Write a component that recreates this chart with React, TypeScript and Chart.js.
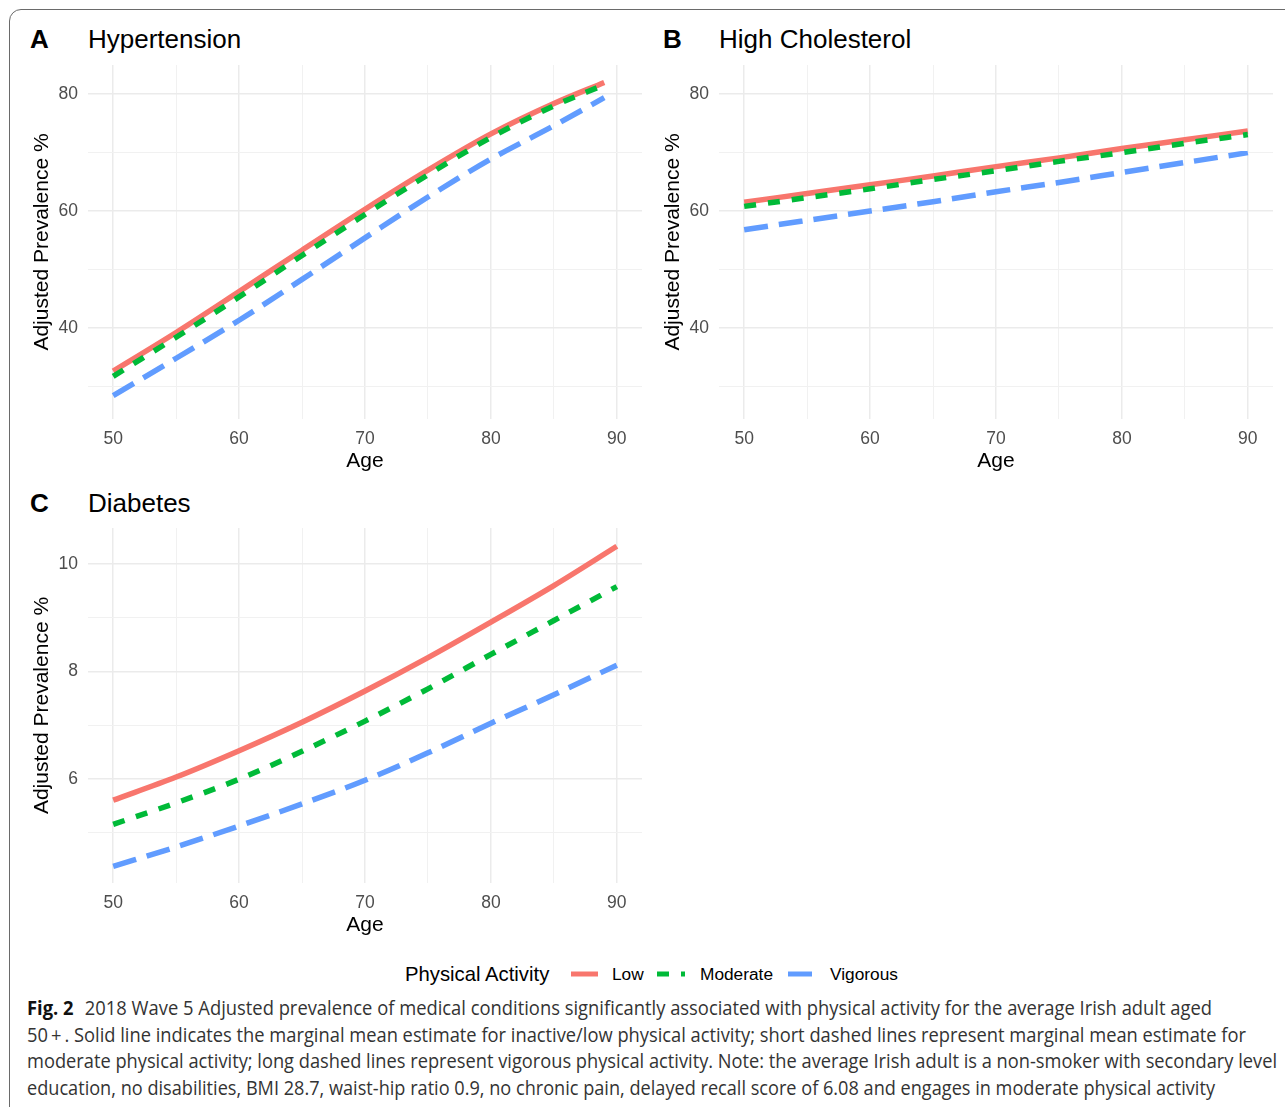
import React, { useEffect, useLayoutEffect, useRef } from 'react';
import { Chart, registerables } from 'chart.js';

Chart.register(...registerables);

const FONT = "'Liberation Sans', Arial, Helvetica, sans-serif";
Chart.defaults.font.family = FONT;

// ---------------- data ----------------
const seriesNames = ['Low', 'Moderate', 'Vigorous'];
const seriesColors = ['#F8766D', '#00BA38', '#619CFF'];
const seriesDash: number[][] = [[], [12, 12], [24, 11]];

const agesHyp = [50, 55, 60, 65, 70, 75, 80, 85, 89];
const hypLow = [32.6, 39.2, 46.2, 53.3, 60.3, 67.0, 73.2, 78.4, 82.0];
const hypModerate = [31.7, 38.4, 45.3, 52.4, 59.4, 66.2, 72.6, 78.0, 81.6];
const hypVigorous = [28.4, 34.8, 41.3, 48.3, 55.4, 62.4, 68.9, 74.6, 79.4];

const ages = [50, 55, 60, 65, 70, 75, 80, 85, 90];
const cholLow = [61.5, 63.0, 64.5, 66.0, 67.6, 69.1, 70.7, 72.2, 73.7];
const cholModerate = [60.8, 62.3, 63.8, 65.4, 66.9, 68.5, 70.0, 71.6, 73.1];
const cholVigorous = [56.8, 58.4, 60.0, 61.6, 63.3, 64.9, 66.6, 68.3, 70.0];

const diabLow = [5.61, 6.04, 6.53, 7.06, 7.64, 8.26, 8.92, 9.6, 10.33];
const diabModerate = [5.16, 5.56, 6.0, 6.52, 7.08, 7.68, 8.32, 8.95, 9.58];
const diabVigorous = [4.38, 4.74, 5.13, 5.54, 5.98, 6.49, 7.04, 7.57, 8.12];

const xGrid = [50, 55, 60, 65, 70, 75, 80, 85, 90];
const xLabels = [50, 60, 70, 80, 90];
const yGridAB = [30, 40, 50, 60, 70, 80];
const yLabelsAB = [40, 60, 80];
const yGridC = [5, 6, 7, 8, 9, 10];
const yLabelsC = [6, 8, 10];

const captionLines = [
  '2018 Wave 5 Adjusted prevalence of medical conditions significantly associated with physical activity for the average Irish adult aged',
  '50\u2009+\u2009. Solid line indicates the marginal mean estimate for inactive/low physical activity; short dashed lines represent marginal mean estimate for',
  'moderate physical activity; long dashed lines represent vigorous physical activity. Note: the average Irish adult is a non-smoker with secondary level',
  'education, no disabilities, BMI 28.7, waist-hip ratio 0.9, no chronic pain, delayed recall score of 6.08 and engages in moderate physical activity',
];
const captionRight = [1212, 1246, 1277, 1215];

// ---------------- panel ----------------
type PanelProps = {
  left: number;
  top: number;
  width: number;
  height: number;
  xs: number[];
  values: number[][];
  yMin: number;
  yMax: number;
  yGrid: number[];
  yLabels: number[];
};

function Panel(p: PanelProps) {
  const ref = useRef<HTMLCanvasElement>(null);
  useEffect(() => {
    const isMajorX = (v: number) => xLabels.includes(v);
    const isMajorY = (v: number) => p.yLabels.includes(v);
    const chart = new Chart(ref.current as HTMLCanvasElement, {
      type: 'line',
      data: {
        datasets: seriesNames.map((name, i) => ({
          label: name,
          data: p.xs.map((x, j) => ({ x, y: p.values[i][j] })),
          borderColor: seriesColors[i],
          backgroundColor: seriesColors[i],
          borderWidth: 5.5,
          borderDash: seriesDash[i],
          borderCapStyle: 'butt' as const,
          pointRadius: 0,
          fill: false,
          cubicInterpolationMode: 'monotone' as const,
          order: 3 - i,
        })),
      },
      options: {
        responsive: false,
        animation: false,
        devicePixelRatio: 1,
        layout: { padding: { top: 5, right: 5, left: 0, bottom: 0 } },
        plugins: { legend: { display: false }, tooltip: { enabled: false } },
        scales: {
          x: {
            type: 'linear',
            min: 48,
            max: 92,
            afterBuildTicks: (s: any) => {
              s.ticks = xGrid.map((v) => ({ value: v }));
            },
            afterFit: (s: any) => {
              s.height = 60;
              s.paddingLeft = 0;
              s.paddingRight = 0;
              s.paddingTop = 0;
              s.paddingBottom = 0;
            },
            border: { display: false },
            grid: {
              drawTicks: false,
              color: (c: any) => (isMajorX(c.tick?.value) ? '#EBEBEB' : '#F1F1F1'),
              lineWidth: (c: any) => (isMajorX(c.tick?.value) ? 1.5 : 1),
            },
            ticks: {
              autoSkip: false,
              maxRotation: 0,
              padding: 10,
              color: '#4D4D4D',
              font: { size: 17.5, family: FONT },
              callback: (v: any) => (isMajorX(Number(v)) ? String(v) : ''),
            },
            title: {
              display: true,
              text: 'Age',
              color: '#000000',
              font: { size: 21, family: FONT },
              padding: { top: 0, bottom: 5 },
            },
          },
          y: {
            type: 'linear',
            min: p.yMin,
            max: p.yMax,
            afterBuildTicks: (s: any) => {
              s.ticks = p.yGrid.map((v) => ({ value: v }));
            },
            afterFit: (s: any) => {
              s.width = 68;
              s.paddingLeft = 0;
              s.paddingRight = 0;
              s.paddingTop = 0;
              s.paddingBottom = 0;
            },
            border: { display: false },
            grid: {
              drawTicks: false,
              color: (c: any) => (isMajorY(c.tick?.value) ? '#EBEBEB' : '#F1F1F1'),
              lineWidth: (c: any) => (isMajorY(c.tick?.value) ? 1.5 : 1),
            },
            ticks: {
              padding: 10,
              color: '#4D4D4D',
              font: { size: 17.5, family: FONT },
              callback: (v: any) => (isMajorY(Number(v)) ? String(v) : ''),
            },
            title: {
              display: true,
              text: 'Adjusted Prevalence %',
              color: '#000000',
              font: { size: 21, family: FONT },
              padding: { top: 10, bottom: 4 },
            },
          },
        },
      } as any,
    });
    return () => chart.destroy();
  }, []);
  return (
    <canvas
      ref={ref}
      width={p.width}
      height={p.height}
      style={{ position: 'absolute', left: p.left, top: p.top, width: p.width, height: p.height }}
    />
  );
}

function PanelTitle({ x, y, letter, title, titleX }: { x: number; y: number; letter: string; title: string; titleX: number }) {
  const base: React.CSSProperties = {
    position: 'absolute',
    top: y,
    fontFamily: FONT,
    fontSize: 26,
    lineHeight: '26px',
    color: '#000',
    whiteSpace: 'nowrap',
  };
  return (
    <>
      <div style={{ ...base, left: x, fontWeight: 'bold' }}>{letter}</div>
      <div style={{ ...base, left: titleX }}>{title}</div>
    </>
  );
}

function LegendKey({ x, i, w }: { x: number; i: number; w: number }) {
  return (
    <svg
      width={w}
      height={10}
      style={{ position: 'absolute', left: x, top: 969, overflow: 'visible' }}
    >
      <line
        x1={0}
        y1={5}
        x2={w}
        y2={5}
        stroke={seriesColors[i]}
        strokeWidth={5}
        strokeDasharray={seriesDash[i].length ? seriesDash[i].join(' ') : undefined}
      />
    </svg>
  );
}

export default function App() {
  const capRefs = useRef<(HTMLDivElement | null)[]>([]);
  useLayoutEffect(() => {
    capRefs.current.forEach((el, i) => {
      if (!el) return;
      el.style.transform = 'none';
      const w = el.getBoundingClientRect().width;
      const target = captionRight[i] - 27;
      if (w > 0) el.style.transform = `scaleX(${target / w})`;
    });
  }, []);

  const legendText: React.CSSProperties = {
    position: 'absolute',
    fontFamily: FONT,
    color: '#000',
    whiteSpace: 'nowrap',
  };
  const capBaselines = [1015, 1042, 1068, 1095];
  const capSize = 19.5;

  return (
    <div
      style={{
        position: 'fixed',
        left: 0,
        top: 0,
        width: 1285,
        height: 1107,
        overflow: 'hidden',
        background: '#fff',
      }}
    >
      <div
        style={{
          position: 'absolute',
          left: 9,
          top: 9,
          width: 1320,
          height: 1200,
          border: '1.5px solid #6a6a6a',
          borderRadius: 12,
          boxSizing: 'border-box',
        }}
      />

      <PanelTitle x={30} y={26} letter="A" title="Hypertension" titleX={88} />
      <PanelTitle x={663} y={26} letter="B" title="High Cholesterol" titleX={719} />
      <PanelTitle x={30} y={490} letter="C" title="Diabetes" titleX={88} />

      <Panel
        left={20}
        top={60}
        width={627}
        height={419}
        xs={agesHyp}
        values={[hypLow, hypModerate, hypVigorous]}
        yMin={24.4}
        yMax={85.0}
        yGrid={yGridAB}
        yLabels={yLabelsAB}
      />
      <Panel
        left={651}
        top={60}
        width={627}
        height={419}
        xs={ages}
        values={[cholLow, cholModerate, cholVigorous]}
        yMin={24.4}
        yMax={85.0}
        yGrid={yGridAB}
        yLabels={yLabelsAB}
      />
      <Panel
        left={20}
        top={523}
        width={627}
        height={420}
        xs={ages}
        values={[diabLow, diabModerate, diabVigorous]}
        yMin={4.07}
        yMax={10.67}
        yGrid={yGridC}
        yLabels={yLabelsC}
      />

      {/* legend */}
      <div style={{ ...legendText, left: 405, top: 964, fontSize: 20.3, lineHeight: '20.3px' }}>Physical Activity</div>
      <LegendKey x={571} i={0} w={27} />
      <div style={{ ...legendText, left: 612, top: 966, fontSize: 17.3, lineHeight: '17.3px' }}>{seriesNames[0]}</div>
      <LegendKey x={657} i={1} w={28} />
      <div style={{ ...legendText, left: 700, top: 966, fontSize: 17.3, lineHeight: '17.3px' }}>{seriesNames[1]}</div>
      <LegendKey x={788} i={2} w={26} />
      <div style={{ ...legendText, left: 830, top: 966, fontSize: 17.3, lineHeight: '17.3px' }}>{seriesNames[2]}</div>

      {/* caption */}
      {captionLines.map((line, i) => (
        <div
          key={i}
          ref={(el) => {
            capRefs.current[i] = el;
          }}
          style={{
            position: 'absolute',
            left: 27,
            top: capBaselines[i] - capSize * 0.888,
            fontFamily: "'Open Sans', 'Noto Sans', sans-serif",
            fontSize: capSize,
            lineHeight: `${capSize}px`,
            color: '#333',
            whiteSpace: 'nowrap',
            transformOrigin: 'left center',
            display: 'inline-block',
          }}
        >
          {i === 0 ? (
            <>
              <span style={{ fontWeight: 'bold', color: '#111', marginRight: 12 }}>Fig. 2</span>
              {line}
            </>
          ) : (
            line
          )}
        </div>
      ))}
    </div>
  );
}
